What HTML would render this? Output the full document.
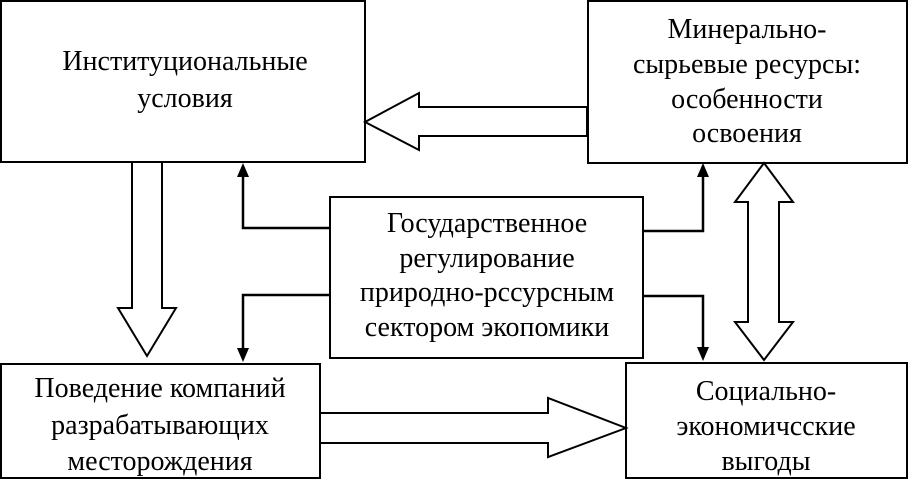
<!DOCTYPE html>
<html><head><meta charset="utf-8"><style>
body{margin:0;background:#fff;}
svg text{font-family:"Liberation Serif",serif;font-size:28px;fill:#000;text-anchor:middle;}
</style></head><body>
<svg width="908" height="479" viewBox="0 0 908 479" xmlns="http://www.w3.org/2000/svg">
<g fill="#fff" stroke="#000" stroke-width="2">
<rect x="1" y="1" width="364" height="161"/>
<rect x="588" y="1" width="319" height="162"/>
<rect x="330" y="197" width="313" height="161"/>
<rect x="1" y="364" width="319" height="114"/>
<rect x="626" y="363" width="281" height="115"/>
<polygon points="587,107 419,107 419,93 365,122 419,150 419,136 587,136"/>
<polygon points="132,162 162,162 162,308 176,308 147,356 118,308 132,308"/>
<polygon points="320,413 548,413 548,398 626,428 548,457 548,443 320,443"/>
<polygon points="764,163 793,202 779,202 779,322 793,322 764,360 735,322 748,322 748,202 735,202"/>
</g>
<g fill="none" stroke="#000" stroke-width="2.5">
<polyline points="330,228 243,228 243,175"/>
<polyline points="330,295 243,295 243,350"/>
<polyline points="643,231 703,231 703,175"/>
<polyline points="643,296 703,296 703,350"/>
</g>
<g fill="#000">
<polygon points="243,163 237,177 249,177"/>
<polygon points="243,362 237,348 249,348"/>
<polygon points="703,163 697,177 709,177"/>
<polygon points="703,361 697,347 709,347"/>
</g>
<text x="185" y="70">Институциональные</text>
<text x="185" y="107">условия</text>
<text x="747" y="38">Минерально-</text>
<text x="747" y="73">сырьевые ресурсы:</text>
<text x="747" y="108">особенности</text>
<text x="747" y="142">освоения</text>
<text x="487" y="232">Государственное</text>
<text x="487" y="267">регулирование</text>
<text x="487" y="301">природно-рссурсным</text>
<text x="487" y="336">сектором экопомики</text>
<text x="160" y="397">Поведение компаний</text>
<text x="160" y="434">разрабатывающих</text>
<text x="160" y="470">месторождения</text>
<text x="766" y="400">Социально-</text>
<text x="766" y="435">экономичсские</text>
<text x="766" y="470">выгоды</text>
</svg>
</body></html>
